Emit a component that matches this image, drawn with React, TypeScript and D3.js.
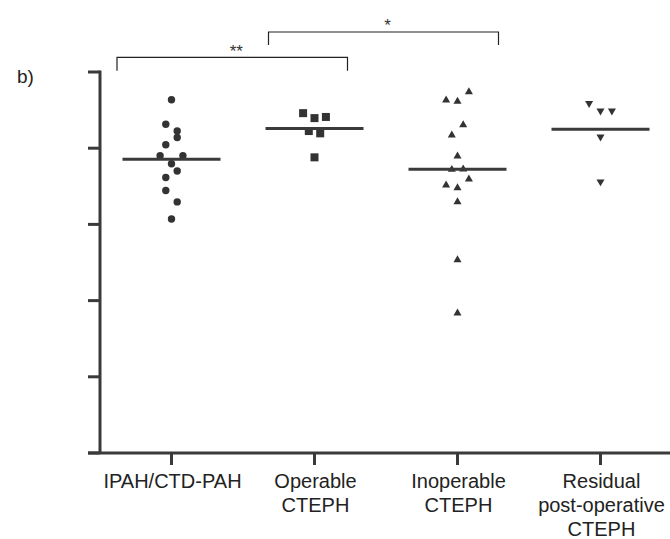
import React from 'react';
import * as d3 from 'd3';

// groups on the x axis (label lines)
const categories = ['IPAH/CTD-PAH', 'Operable CTEPH', 'Inoperable CTEPH', 'Residual post-operative CTEPH'];
const labelLines = [['IPAH/CTD-PAH'], ['Operable', 'CTEPH'], ['Inoperable', 'CTEPH'], ['Residual', 'post-operative', 'CTEPH']];

// individual values (y axis 0..100, no labels)
const ipahValues = [92.7, 86.3, 84.5, 82.8, 80.9, 78.0, 78.0, 75.9, 74.0, 72.3, 68.9, 65.9, 61.4];
const ipahSlots = [0, -1, 1, 1, -1, -2, 2, 0, 1, -1, -1, 1, 0];
const operableValues = [89.2, 87.9, 88.2, 84.5, 83.9, 77.6];
const operableSlots = [-2, 0, 2, -1, 1, 0];
const inoperableValues = [94.8, 92.6, 92.3, 86.1, 83.4, 77.9, 74.4, 74.5, 71.9, 70.3, 69.6, 65.9, 50.7, 36.7];
const inoperableSlots = [2, -2, 0, 1, -1, 0, -1, 1, 2, -2, 0, 0, 0, 0];
const residualValues = [91.8, 89.8, 89.8, 83.0, 71.2];
const residualSlots = [-2, 0, 2, 0, 0];

const medians = [77.1, 85.2, 74.5, 85.0];
const yTicks = [0, 20, 40, 60, 80, 100];

const brackets = [
  { from: 0, to: 1, label: '**' },
  { from: 1, to: 2, label: '*' },
];

const W = 670;
const H = 539;
const ink = '#3a3a3a';
const font = 'Liberation Sans, Arial, sans-serif';

export default function App() {
  const x = d3.scaleBand<string>().domain(categories).range([100, 672]).padding(0);
  const cx = (i: number) => (x(categories[i]) as number) + x.bandwidth() / 2;
  const y = d3.scaleLinear().domain([0, 100]).range([453, 72]);
  const slot = 5.7;

  const groups = [
    { values: ipahValues, slots: ipahSlots, shape: 'circle' },
    { values: operableValues, slots: operableSlots, shape: 'square' },
    { values: inoperableValues, slots: inoperableSlots, shape: 'up' },
    { values: residualValues, slots: residualSlots, shape: 'down' },
  ];

  const tri = d3.symbol().type(d3.symbolTriangle).size(28)() as string;

  const marker = (shape: string, px: number, py: number, k: string) => {
    if (shape === 'circle') return <circle key={k} cx={px} cy={py} r={3.7} fill="#333" />;
    if (shape === 'square') return <rect key={k} x={px - 4} y={py - 4} width={8} height={8} fill="#333" />;
    const rot = shape === 'down' ? ' rotate(180)' : '';
    return <path key={k} d={tri} transform={`translate(${px},${py})${rot}`} fill="#333" />;
  };

  // bracket ends sit a little off the group centres, as in the figure
  const bracketGeom = [
    { x1: cx(brackets[0].from) - 54.5, x2: cx(brackets[0].to) + 33, top: 57.3, bottom: 70.7, ty: 56.5 },
    { x1: cx(brackets[1].from) - 46, x2: cx(brackets[1].to) + 41, top: 32, bottom: 45, ty: 31 },
  ];

  return (
    <svg width={W} height={H} style={{ position: 'absolute', left: 0, top: 0, background: '#fff' }}>
      <text x={17} y={83} fontFamily={font} fontSize={19} fill="#222">b)</text>

      {/* y axis */}
      <line x1={100} x2={100} y1={y(100) - 1.5} y2={y(0)} stroke={ink} strokeWidth={3} />
      {yTicks.map((t) => (
        <line key={t} x1={88} x2={100} y1={y(t)} y2={y(t)} stroke={ink} strokeWidth={3} />
      ))}

      {/* x axis */}
      <line x1={88} x2={W} y1={y(0)} y2={y(0)} stroke={ink} strokeWidth={3} />
      {categories.map((c, i) => (
        <g key={c}>
          <line x1={cx(i)} x2={cx(i)} y1={y(0)} y2={y(0) + 12} stroke={ink} strokeWidth={3} />
          <text x={cx(i) + 1} y={487.5} textAnchor="middle" fontFamily={font} fontSize={20} fill="#222">
            {labelLines[i].map((ln, j) => (
              <tspan key={j} x={cx(i) + 1} dy={j === 0 ? 0 : 24}>{ln}</tspan>
            ))}
          </text>
        </g>
      ))}

      {/* points */}
      {groups.map((g, gi) =>
        g.values.map((v, vi) => marker(g.shape, cx(gi) + g.slots[vi] * slot, y(v), `${gi}-${vi}`))
      )}

      {/* medians */}
      {medians.map((m, i) => (
        <line key={i} x1={cx(i) - 49} x2={cx(i) + 49} y1={y(m)} y2={y(m)} stroke={ink} strokeWidth={3} />
      ))}

      {/* significance brackets */}
      {brackets.map((b, i) => {
        const g = bracketGeom[i];
        return (
          <g key={i}>
            <path d={`M${g.x1},${g.bottom}V${g.top}H${g.x2}V${g.bottom}`} fill="none" stroke="#222" strokeWidth={1.2} />
            <text x={(g.x1 + g.x2) / 2 + 4} y={g.ty} textAnchor="middle" fontFamily={font} fontSize={17} fill="#333">
              {b.label}
            </text>
          </g>
        );
      })}
    </svg>
  );
}
